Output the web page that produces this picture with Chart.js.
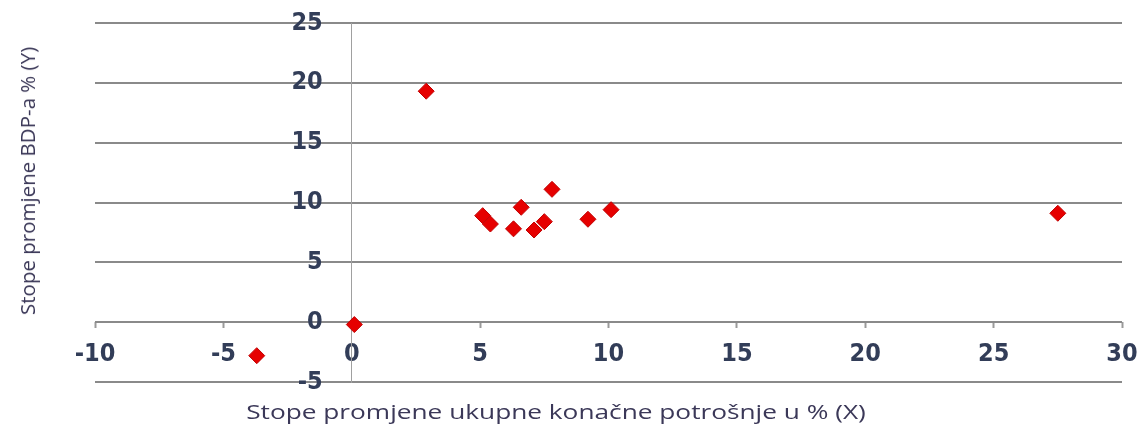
<!DOCTYPE html>
<html>
<head>
<meta charset="utf-8">
<script src="https://cdn.jsdelivr.net/npm/chart.js@4/dist/chart.umd.min.js"></script>
<style>
  html, body { margin: 0; padding: 0; background: #fff; }
  #wrap { position: relative; width: 1142px; height: 425px; }
  #chart { position: absolute; left: 0; top: 0; }
  .ttl { position: absolute; font-family: "Open Sans", sans-serif; font-size: 20.5px; color: #3b3858; white-space: nowrap; }
  #xTitle { left: 556px; top: 397px; transform: translateX(-50%) scaleX(1.28); }
  #yTitle { left: 27px; top: 181px; transform: translate(-50%, -50%) rotate(-90deg); }
</style>
</head>
<body>
<div id="wrap">
  <canvas id="chart" width="1142" height="425"></canvas>
  <div class="ttl" id="xTitle">Stope promjene ukupne konačne potrošnje u % (X)</div>
  <div class="ttl" id="yTitle">Stope promjene BDP-a % (Y)</div>
</div>
<script>
// potrošnja (X) i BDP (Y), stope promjene u %
const xValues = [-3.7, 0.1, 2.9, 5.1, 5.4, 6.3, 6.6, 7.1, 7.5, 7.8, 9.2, 10.1, 27.5];
const yValues = [-2.8, -0.2, 19.3, 8.9, 8.2, 7.8, 9.6, 7.7, 8.4, 11.1, 8.6, 9.4, 9.1];
const xTicks = [-10, -5, 0, 5, 10, 15, 20, 25, 30];
const yTicks = [-5, 0, 5, 10, 15, 20, 25];

const points = xValues.map((x, i) => ({ x: x, y: yValues[i] }));

// weight string also carries font-stretch, chart.js passes it straight into ctx.font
const tickFont = { family: '"DejaVu Sans", sans-serif', size: 25, weight: 'bold condensed' };
const tickColor = '#323d58';

// y labels sit left of the x=0 axis line, chart.js puts them flush against it
const shiftYLabels = {
  id: 'shiftYLabels',
  beforeDraw(chart) {
    const s = chart.scales.y;
    if (s._shifted) return;
    const orig = s.drawLabels.bind(s);
    s.drawLabels = function (area) {
      const ctx = chart.ctx;
      ctx.save();
      ctx.translate(-29, 0);
      orig(area);
      ctx.restore();
    };
    s._shifted = true;
  },
};

new Chart(document.getElementById('chart'), {
  type: 'scatter',
  data: {
    datasets: [{
      data: points,
      pointStyle: 'rectRot',
      pointRadius: 8,
      pointHoverRadius: 8,
      backgroundColor: '#e60000',
      borderColor: '#c00000',
      borderWidth: 1,
    }],
  },
  options: {
    responsive: false,
    animation: false,
    layout: { padding: { left: 95, right: 20, top: 23, bottom: 43 } },
    plugins: { legend: { display: false }, tooltip: { enabled: false } },
    scales: {
      x: {
        type: 'linear',
        min: -10,
        max: 30,
        position: { y: 0 },
        afterBuildTicks: (s) => { s.ticks = xTicks.map((v) => ({ value: v })); },
        afterFit: (s) => { s.paddingLeft = 0; s.paddingRight = 0; },
        grid: { drawOnChartArea: false, drawTicks: true, tickLength: 6, tickColor: '#9a9a9a', tickWidth: 2 },
        border: { display: false },
        ticks: { color: tickColor, font: tickFont, padding: 11, maxRotation: 0, autoSkip: false },
      },
      y: {
        type: 'linear',
        min: -5,
        max: 25,
        position: { x: 0 },
        afterBuildTicks: (s) => { s.ticks = yTicks.map((v) => ({ value: v })); },
        afterFit: (s) => { s.paddingTop = 0; s.paddingBottom = 0; },
        grid: { color: '#8a8a8a', lineWidth: 2, drawTicks: false },
        border: { display: true, color: '#a0a0a0', width: 1 },
        ticks: { color: tickColor, font: tickFont, padding: 0, autoSkip: false },
      },
    },
  },
  plugins: [shiftYLabels],
});
</script>
</body>
</html>
